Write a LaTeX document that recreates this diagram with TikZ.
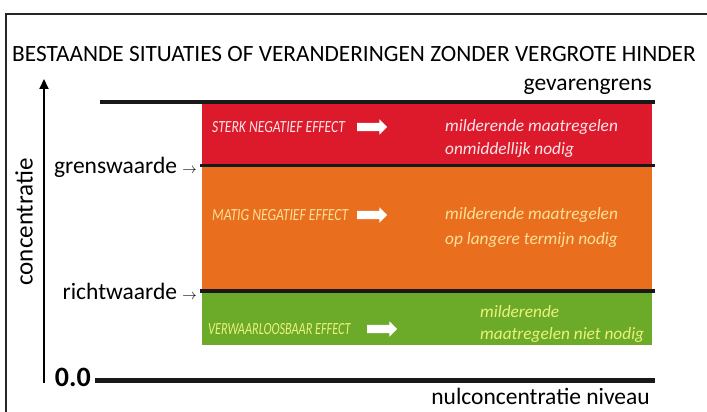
\documentclass[tikz,border=0pt]{standalone}
\usepackage{fontspec}
\setmainfont{Carlito}
\usepackage{tikz}
\usetikzlibrary{shapes.arrows, arrows.meta, positioning}
\definecolor{bandred}{HTML}{DC1A2C}
\definecolor{bandorange}{HTML}{E96F1E}
\definecolor{bandgreen}{HTML}{6CAA2A}
\definecolor{txtred}{HTML}{FCE6E8}
\definecolor{txtorange}{HTML}{FDE19A}
\definecolor{txtgreen}{HTML}{ECF27A}
\newcommand{\condensed}[2]{\scalebox{#1}[1]{#2}}
\tikzset{
    % bands and levels
    band/.style = {rectangle, anchor=north west, minimum width=450pt, inner sep=0pt, draw=none},
    level/.style = {line width=3.5pt, draw=black!90},
    biglabel/.style = {font=\fontsize{23.5}{28}\selectfont, inner sep=0pt},
    effect/.style = {font=\fontsize{17}{20}\selectfont\itshape, inner sep=0pt, anchor=base west},
    advice/.style = {font=\fontsize{17.3}{20}\selectfont\itshape, inner sep=0pt, anchor=base west},
    whitearrow/.style = {single arrow, fill=white, draw=none, minimum height=30pt, inner xsep=0pt, inner ysep=4pt, single arrow head extend=3.5pt}
}
\begin{document}
\begin{tikzpicture}[x=1pt, y=-1pt]
\useasboundingbox (0,0) rectangle (707,412);

% Frame
\draw[line width=1.6pt, black!85] (6,412) -- (6,14) -- (707,14);

% Title
\node[font=\fontsize{23.3}{27}\selectfont, inner sep=0pt, anchor=base] (title) at (354,62) {BESTAANDE SITUATIES OF VERANDERINGEN ZONDER VERGROTE HINDER};

% Bands
\node[band, fill=bandred, minimum height=61pt] (sterk) at (202,104) {};
\node[band, fill=bandorange, minimum height=123pt] (matig) at (202,167) {};
\node[band, fill=bandgreen, minimum height=52pt] (verwaarloos) at (202,293) {};

% Levels
\coordinate (top_left) at (100,102);
\coordinate (top_right) at (655,102);
\coordinate (zero_left) at (95,380);
\coordinate (zero_right) at (655,380);
\draw[level, line width=4pt] (top_left) -- (top_right);
\draw[level] (200,165.5) coordinate (grens_left) -- (grens_left -| top_right) coordinate (grens_right);
\draw[level] (200,291) coordinate (richt_left) -- (richt_left -| top_right) coordinate (richt_right);
\draw[level, line width=5pt] (zero_left) -- (zero_right);

% Level labels
\node[biglabel, anchor=base east] (gevarengrens) at (652,90) {gevarengrens};
\node[biglabel, anchor=base east] (grenswaarde) at (197,173) {grenswaarde {\fontsize{15}{15}\selectfont$\rightarrow$}};
\node[biglabel, anchor=base east] (richtwaarde) at (197,299) {richtwaarde {\fontsize{15}{15}\selectfont$\rightarrow$}};
\node[biglabel, font=\fontsize{28}{32}\selectfont\bfseries, anchor=base east] (nul) at (91,386) {0.0};
\node[biglabel, anchor=base east] (nulniveau) at (650,404) {nulconcentratie niveau};

% Axis
\coordinate (axis_bottom) at (44,383);
\coordinate (axis_top) at (44,79);
\draw[line width=2pt, -{Triangle[length=10pt, width=9pt]}] (axis_bottom) -- (axis_top);
\node[biglabel, font=\fontsize{25}{30}\selectfont, rotate=90] (concentratie) at (24,222) {concentratie};

% Red band
\node[effect, text=txtred] (sterk_effect) at (212,132) {\condensed{0.8}{STERK NEGATIEF EFFECT}};
\node[whitearrow] (sterk_arrow) at (370,127) {};
\node[advice, text=txtred] (sterk_advice) at (445,131) {milderende maatregelen};
\node[advice, text=txtred] (sterk_advice2) at (445,154) {onmiddellijk nodig};

% Orange band
\node[effect, text=txtorange] (matig_effect) at (212,220) {\condensed{0.8}{MATIG NEGATIEF EFFECT}};
\node[whitearrow] (matig_arrow) at (370,215) {};
\node[advice, text=txtorange] (matig_advice) at (445,219) {milderende maatregelen};
\node[advice, text=txtorange] (matig_advice2) at (445,244) {op langere termijn nodig};

% Green band
\node[effect, text=txtgreen] (verw_effect) at (208,334) {\condensed{0.72}{VERWAARLOOSBAAR EFFECT}};
\node[whitearrow] (verw_arrow) at (380,329) {};
\node[advice, text=txtgreen] (verw_advice) at (480,317) {milderende};
\node[advice, text=txtgreen] (verw_advice2) at (480,339) {maatregelen niet nodig};

\end{tikzpicture}
\end{document}
